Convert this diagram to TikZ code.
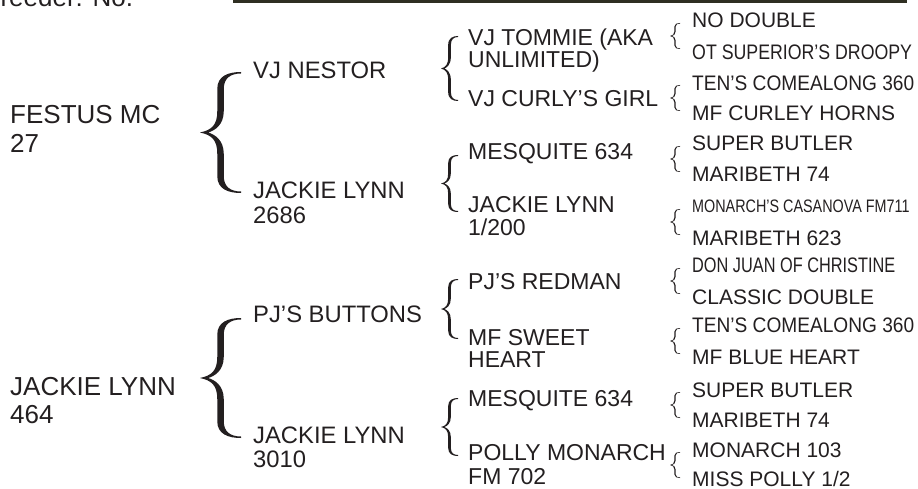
\documentclass[tikz,border=0pt]{standalone}
\usepackage{fontspec}
\setmainfont{Liberation Sans}
\definecolor{ink}{HTML}{231F20}
\definecolor{barcol}{HTML}{2F2F22}
\newcommand\bracefill[6]{%
  \pgfmathsetmacro\ba{0.5-#5/#3/2}%
  \pgfmathsetmacro\bb{0.5+#5/#3/2}%
  \pgfmathsetmacro\be{1-#6/#4}%
  \fill[ink, shift={(#1,#2)}, xscale=#3, yscale=#4]
    (0,0) .. controls (0.28,-0.04) and (\ba,-0.12) .. (\ba,-0.35)
    -- (\ba,-0.72) .. controls (\ba,-0.94) and (0.7,-1) .. (1,-1)
    -- (1,-\be) .. controls (0.75,-\be) and (\bb,-0.9) .. (\bb,-0.72)
    -- (\bb,-0.35) .. controls (\bb,-0.12) and (0.35,-0.03) .. (0.2,0)
    .. controls (0.35,0.03) and (\bb,0.12) .. (\bb,0.35)
    -- (\bb,0.72) .. controls (\bb,0.9) and (0.75,\be) .. (1,\be)
    -- (1,1) .. controls (0.7,1) and (\ba,0.94) .. (\ba,0.72)
    -- (\ba,0.35) .. controls (\ba,0.12) and (0.28,0.04) .. (0,0) -- cycle;%
}
\tikzset{
  txt/.style={anchor=base west, inner sep=0pt, text=ink},
  lvA/.style={txt, font=\fontsize{26}{26}\selectfont},
  lvB/.style={txt, font=\fontsize{23.8}{24}\selectfont},
  lvC/.style={txt, font=\fontsize{23}{23}\selectfont},
  lvD/.style={txt, font=\fontsize{21}{21}\selectfont},
}
\begin{document}
\begin{tikzpicture}[x=1pt,y=-1pt]
\useasboundingbox (0,0) rectangle (918,489);
% top fragments
\fill[barcol] (233,0) rectangle (907,2.8);
\begin{scope}
\clip (0,0) rectangle (200,7);
\node[lvA] (hdr) at (-17,7) {Breeder: No.};
\end{scope}
% column 1
\node[lvA] (f1) at (10,124) {FESTUS MC};
\node[lvA] (f2) at (10,153) {27};
\node[lvA] (j1) at (10,395) {JACKIE LYNN};
\node[lvA] (j2) at (10,423) {464};
% column 2
\node[lvB] (s1) at (253,78.5) {VJ NESTOR};
\node[lvB] (d1) at (253,198.5) {JACKIE LYNN};
\node[lvB] (d1b) at (253,223) {2686};
\node[lvB] (s2) at (253,322) {PJ’S BUTTONS};
\node[lvB] (d2) at (253,443.5) {JACKIE LYNN};
\node[lvB] (d2b) at (253,467) {3010};
% column 3
\node[lvC] (g1) at (468,45.5) {VJ TOMMIE (AKA};
\node[lvC] (g1b) at (468,67.5) {UNLIMITED)};
\node[lvC] (g2) at (468,106.5) {VJ CURLY’S GIRL};
\node[lvC] (g3) at (468,159.5) {MESQUITE 634};
\node[lvC] (g4) at (468,212) {JACKIE LYNN};
\node[lvC] (g4b) at (468,235) {1/200};
\node[lvC] (g5) at (468,289.5) {PJ’S REDMAN};
\node[lvC] (g6) at (468,345.5) {MF SWEET};
\node[lvC] (g6b) at (468,367.5) {HEART};
\node[lvC] (g7) at (468,406) {MESQUITE 634};
\node[lvC] (g8) at (468,460.5) {POLLY MONARCH};
\node[lvC] (g8b) at (468,484.5) {FM 702};
% column 4
\node[lvD] (h1) at (692,27.5) {NO DOUBLE};
\node[lvD] (h2) at (692,59.5) {\scalebox{0.845}[1]{OT SUPERIOR’S DROOPY}};
\node[lvD] (h3) at (692,90.5) {\scalebox{0.91}[1]{TEN’S COMEALONG 360}};
\node[lvD] (h4) at (692,120.5) {MF CURLEY HORNS};
\node[lvD] (h5) at (692,151) {SUPER BUTLER};
\node[lvD] (h6) at (692,182) {MARIBETH 74};
\node[lvD] (h7) at (692,212.5) {\scalebox{0.684}[0.86]{MONARCH’S CASANOVA FM711}};
\node[lvD] (h8) at (692,245) {MARIBETH 623};
\node[lvD] (h9) at (692,272.5) {\scalebox{0.777}[1]{DON JUAN OF CHRISTINE}};
\node[lvD] (h10) at (692,304.5) {CLASSIC DOUBLE};
\node[lvD] (h11) at (692,332.5) {\scalebox{0.91}[1]{TEN’S COMEALONG 360}};
\node[lvD] (h12) at (692,364.5) {MF BLUE HEART};
\node[lvD] (h13) at (692,397.5) {SUPER BUTLER};
\node[lvD] (h14) at (692,427.5) {MARIBETH 74};
\node[lvD] (h15) at (692,457.5) {MONARCH 103};
\node[lvD] (h16) at (692,486) {MISS POLLY 1/2};
% level 1 braces
\bracefill{200}{132.5}{41}{60.5}{6.5}{1.5}
\bracefill{200}{378}{41}{60}{6.5}{1.5}
% level 2 braces
\bracefill{441}{68.5}{17}{32.5}{2.7}{1}
\bracefill{441}{183.5}{17}{28.5}{2.7}{1}
\bracefill{441}{309}{17}{30}{2.7}{1}
\bracefill{441}{427}{17}{29}{2.7}{1}
% level 3 braces
\bracefill{670}{36}{10}{13}{1.3}{0.6}
\bracefill{670}{98}{10}{13}{1.3}{0.6}
\bracefill{670}{159}{10}{13}{1.3}{0.6}
\bracefill{670}{222}{10}{13}{1.3}{0.6}
\bracefill{670}{281}{10}{13}{1.3}{0.6}
\bracefill{670}{341}{10}{13}{1.3}{0.6}
\bracefill{670}{405}{10}{13}{1.3}{0.6}
\bracefill{670}{465}{10}{13}{1.3}{0.6}
\end{tikzpicture}
\end{document}
